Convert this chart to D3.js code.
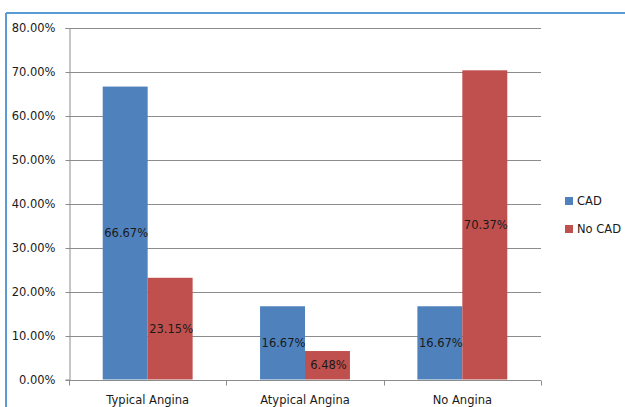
<!DOCTYPE html>
<html>
<head>
<meta charset="utf-8">
<script src="https://cdn.jsdelivr.net/npm/d3@7"></script>
<style>
  html, body { margin: 0; padding: 0; background: #fff; }
  svg { display: block; font-family: "DejaVu Sans", sans-serif; }
</style>
</head>
<body>
<svg id="chart" width="625" height="407"></svg>
<script>
// Chest pain type vs. CAD outcome (percent of each group)
const categories = ["Typical Angina", "Atypical Angina", "No Angina"];
const seriesNames = ["CAD", "No CAD"];
const cadValues = [66.67, 16.67, 16.67];
const noCadValues = [23.15, 6.48, 70.37];
const yTicks = [0, 10, 20, 30, 40, 50, 60, 70, 80];
const colors = ["#4F81BD", "#C0504D"];

const svg = d3.select("#chart");
const W = 625, H = 407;
const margin = { left: 69, right: 84, top: 28, bottom: 27.5 };

// outer frame (top and left edges visible)
svg.append("line").attr("x1", 6).attr("x2", W).attr("y1", 13).attr("y2", 13)
  .attr("stroke", "#5B9BD5").attr("stroke-width", 2);
svg.append("line").attr("x1", 6).attr("x2", 6).attr("y1", 13).attr("y2", H)
  .attr("stroke", "#5B9BD5").attr("stroke-width", 2);

const x0 = d3.scaleBand().domain(categories)
  .range([margin.left, W - margin.right]).paddingInner(0).paddingOuter(0);
const y = d3.scaleLinear().domain([0, 80]).range([H - margin.bottom, margin.top]);

// gap width 150% of a bar: two bars + 1.5 bar widths per category
const barW = x0.bandwidth() / (2 + 1.5);
const x1 = d3.scaleBand().domain(seriesNames)
  .range([x0.bandwidth() / 2 - barW, x0.bandwidth() / 2 + barW]).padding(0);

// gridlines
svg.append("g").selectAll("line").data(yTicks.filter(d => d > 0)).join("line")
  .attr("x1", margin.left).attr("x2", W - margin.right)
  .attr("y1", d => Math.round(y(d)) + 0.5).attr("y2", d => Math.round(y(d)) + 0.5)
  .attr("stroke", "#8C8C8C").attr("stroke-width", 1);

// y axis
const yAxis = d3.axisLeft(y).tickValues(yTicks)
  .tickFormat(d => d.toFixed(2) + "%").tickSize(4).tickPadding(10);
const gy = svg.append("g").attr("transform", `translate(${margin.left + 0.5},0)`).call(yAxis);
gy.select(".domain").attr("stroke", "#8C8C8C");
gy.selectAll(".tick line").attr("stroke", "#8C8C8C");
gy.selectAll(".tick").attr("transform", d => `translate(0,${Math.round(y(d)) + 0.5})`);
gy.selectAll("text").attr("font-size", 11.5).attr("fill", "#1a1a1a")
  .attr("font-family", "DejaVu Sans, sans-serif");

// bars
const rows = categories.map((c, i) => ({ cat: c, vals: [cadValues[i], noCadValues[i]] }));
const groups = svg.append("g").selectAll("g").data(rows).join("g")
  .attr("transform", d => `translate(${x0(d.cat)},0)`);

groups.selectAll("rect").data(d => d.vals.map((v, j) => ({ name: seriesNames[j], v, j })))
  .join("rect")
  .attr("x", d => x1(d.name)).attr("width", x1.bandwidth())
  .attr("y", d => y(d.v)).attr("height", d => y(0) - y(d.v))
  .attr("fill", d => colors[d.j]);

// value labels, centred in each bar
groups.selectAll("text.val").data(d => d.vals.map((v, j) => ({ name: seriesNames[j], v, j })))
  .join("text").attr("class", "val")
  .attr("x", d => x1(d.name) + x1.bandwidth() / 2 + 1)
  .attr("y", d => (y(d.v) + y(0)) / 2)
  .attr("dy", "0.35em").attr("text-anchor", "middle")
  .attr("font-size", 11.5).attr("fill", "#1a1a1a")
  .text(d => d.v.toFixed(2) + "%");

// x axis
const xAxis = d3.axisBottom(x0).tickSize(0).tickPadding(15);
const gx = svg.append("g").attr("transform", `translate(0,${Math.round(y(0)) + 0.5})`).call(xAxis);
gx.select(".domain").attr("stroke", "#8C8C8C").attr("d", `M${margin.left},0H${W - margin.right}`);
gx.selectAll("text").attr("font-size", 11.5).attr("fill", "#1a1a1a")
  .attr("font-family", "DejaVu Sans, sans-serif");
// category boundary ticks
const bounds = categories.map(c => x0(c)).concat([x0(categories[categories.length - 1]) + x0.bandwidth()]);
gx.append("g").selectAll("line").data(bounds).join("line")
  .attr("x1", d => Math.round(d) + 0.5).attr("x2", d => Math.round(d) + 0.5)
  .attr("y1", 0).attr("y2", 5).attr("stroke", "#8C8C8C");

// legend
const legend = svg.append("g").attr("transform", "translate(565,0)");
const ly = [201, 229];
seriesNames.forEach((n, i) => {
  legend.append("rect").attr("x", 0).attr("y", ly[i] - 4).attr("width", 8).attr("height", 8)
    .attr("fill", colors[i]);
  legend.append("text").attr("x", 12).attr("y", ly[i]).attr("dy", "0.35em")
    .attr("font-size", 11.5).attr("fill", "#1a1a1a").text(n);
});
</script>
</body>
</html>
